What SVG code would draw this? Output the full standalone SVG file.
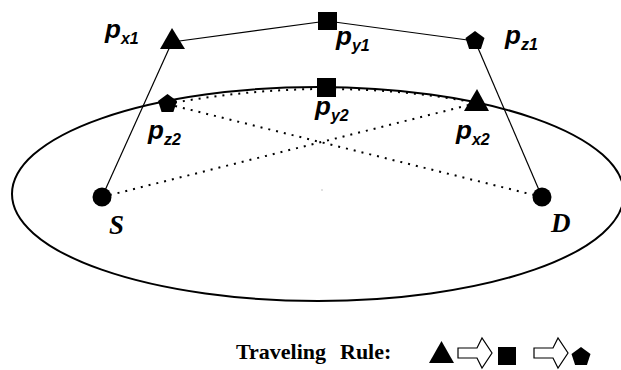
<svg xmlns="http://www.w3.org/2000/svg" width="621" height="370" viewBox="0 0 621 370">
<style>
  .solid { stroke: #000; stroke-width: 1.2; fill: none; }
  .dot { stroke: #000; stroke-width: 2; fill: none; stroke-dasharray: 2 6; }
  .shape { fill: #000; stroke: none; }
  .lbl { font-family: "Liberation Sans", Arial, sans-serif; font-weight: bold; font-style: italic; font-size: 26px; fill: #000; }
  .sub { font-size: 16px; }
  .ep { font-family: "Liberation Serif", "Times New Roman", serif; font-weight: bold; font-style: italic; font-size: 27px; fill: #000; }
  .rule { font-family: "Liberation Serif", "Times New Roman", serif; font-weight: bold; font-size: 22px; fill: #000; }
  .arrow { fill: #fff; stroke: #000; stroke-width: 1.2; stroke-linejoin: miter; }
</style>
<rect width="621" height="370" fill="#fff"/>
<g id="region">
  <ellipse cx="318" cy="194" rx="306" ry="107" fill="none" stroke="#000" stroke-width="2"/>
  <circle cx="322" cy="190" r="0.8" fill="#bbb"/>
</g>
<g id="connectors">
  <line class="solid" x1="102" y1="197" x2="172" y2="42"/>
  <line class="solid" x1="172" y1="42" x2="327" y2="21"/>
  <line class="solid" x1="327" y1="21" x2="475" y2="41"/>
  <line class="solid" x1="475" y1="41" x2="542" y2="197"/>
  <line class="dot" x1="102" y1="197" x2="477" y2="103"/>
  <line class="dot" x1="542" y1="197" x2="167" y2="104"/>
  <path class="dot" d="M167,104 Q326,74.5 477,103"/>
</g>
<g id="S">
  <circle class="shape" cx="102" cy="197" r="9.5"/>
  <text class="ep" x="109" y="234">S</text>
</g>
<g id="D">
  <circle class="shape" cx="542" cy="197" r="9.5"/>
  <text class="ep" x="551" y="232">D</text>
</g>
<g id="px1">
  <polygon class="shape" points="172,28 185,49 160,49"/>
  <text class="lbl" x="105" y="38">p<tspan class="sub" dy="6">x1</tspan></text>
</g>
<g id="py1">
  <rect class="shape" x="318" y="12" width="19" height="18"/>
  <text class="lbl" x="336" y="45">p<tspan class="sub" dy="6">y1</tspan></text>
</g>
<g id="pz1">
  <polygon class="shape" points="475,31 484.5,37.9 480.9,49.1 469.1,49.1 465.5,37.9"/>
  <text class="lbl" x="505" y="44">p<tspan class="sub" dy="6">z1</tspan></text>
</g>
<g id="pz2">
  <polygon class="shape" points="167.5,94 177,100.9 173.4,112.1 161.6,112.1 158,100.9"/>
  <text class="lbl" x="148" y="139">p<tspan class="sub" dy="6">z2</tspan></text>
</g>
<g id="py2">
  <rect class="shape" x="317" y="78" width="19" height="19"/>
  <text class="lbl" x="315" y="115">p<tspan class="sub" dy="6">y2</tspan></text>
</g>
<g id="px2">
  <polygon class="shape" points="477,89 489,111 464,111"/>
  <text class="lbl" x="456" y="139">p<tspan class="sub" dy="6">x2</tspan></text>
</g>
<g id="legend">
  <text class="rule" x="236" y="359">Traveling</text>
  <text class="rule" x="340" y="359">Rule:</text>
  <polygon class="shape" points="441.5,341 454,363 429,363"/>
  <path class="arrow" d="M458,348 L477,348 L482,338 L492,353 L482,368 L477,358 L458,358 Z"/>
  <rect class="shape" x="498" y="347" width="18" height="18"/>
  <path class="arrow" d="M534,348 L553,348 L558,338 L568,353 L558,368 L553,358 L534,358 Z"/>
  <polygon class="shape" points="581,347 590.5,353.9 586.9,365.1 575.1,365.1 571.5,353.9"/>
</g>
</svg>
